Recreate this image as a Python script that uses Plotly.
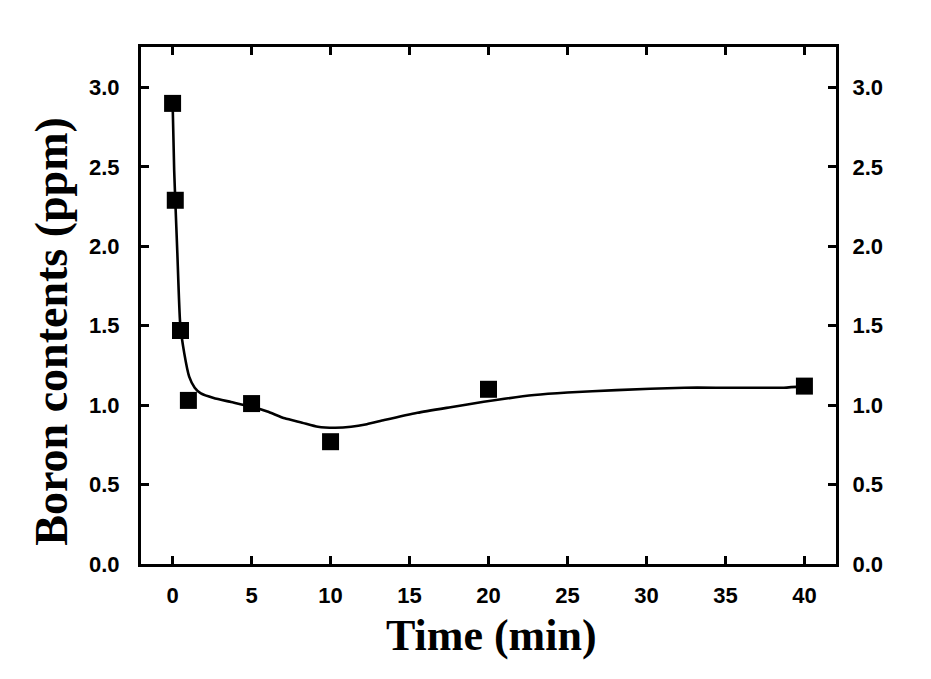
import plotly.graph_objects as go

# Measured data (markers)
time_min = [0, 0.17, 0.5, 1, 5, 10, 20, 40]
boron_ppm = [2.90, 2.29, 1.47, 1.03, 1.01, 0.77, 1.10, 1.12]

# Smooth fit curve
curve_t = [0, 0.1, 0.17, 0.3, 0.48, 0.74, 1.05, 1.4, 1.79, 2.6, 3.7, 5.0, 6.0, 7.1,
           8.2, 9.2, 10.3, 11.3, 12.3, 13.4, 15.5, 17.6, 19.7, 22.9, 25.0, 28.1,
           32.4, 35.0, 38.7, 40]
curve_y = [2.91, 2.48, 2.29, 1.96, 1.515, 1.326, 1.18, 1.11, 1.074, 1.045, 1.02, 0.99,
           0.96, 0.917, 0.89, 0.864, 0.858, 0.864, 0.88, 0.906, 0.952, 0.987, 1.021,
           1.064, 1.08, 1.095, 1.11, 1.11, 1.11, 1.12]

x_ticks = [0, 5, 10, 15, 20, 25, 30, 35, 40]
y_ticks = [0.0, 0.5, 1.0, 1.5, 2.0, 2.5, 3.0]
y_ticklabels = ["0.0", "0.5", "1.0", "1.5", "2.0", "2.5", "3.0"]

x_title = "Time (min)"
y_title = "Boron contents (ppm)"

X_RANGE = [-2, 42]
Y_RANGE = [0, 3.255]

tick_font = dict(family="Liberation Sans, Arial, sans-serif", size=22, color="black",
                 weight="bold")
title_font = dict(family="Liberation Serif, Times New Roman, serif", size=44, color="black")
ytitle_font = dict(family="Liberation Serif, Times New Roman, serif", size=46, color="black")

fig = go.Figure()
fig.add_trace(go.Scatter(x=curve_t, y=curve_y, mode="lines",
                         line=dict(color="black", width=2.6, shape="spline", smoothing=0.5),
                         hoverinfo="skip", showlegend=False))
fig.add_trace(go.Scatter(x=time_min, y=boron_ppm, mode="markers",
                         marker=dict(symbol="square", size=17, color="black"),
                         showlegend=False))
# invisible trace to activate right axis
fig.add_trace(go.Scatter(x=time_min, y=boron_ppm, mode="markers", yaxis="y2",
                         marker=dict(size=1, opacity=0), hoverinfo="skip", showlegend=False))

axis_common = dict(showline=True, linecolor="black", linewidth=3, ticks="inside",
                   ticklen=8, tickwidth=2.5, tickcolor="black", showgrid=False,
                   zeroline=False, tickfont=tick_font)

fig.update_layout(
    width=931, height=679,
    margin=dict(l=141, r=95, t=47, b=115),
    paper_bgcolor="white", plot_bgcolor="white",
    xaxis=dict(range=X_RANGE, tickvals=x_ticks, mirror="ticks", ticklabelstandoff=10,
               **axis_common),
    yaxis=dict(range=Y_RANGE, tickvals=y_ticks, ticktext=y_ticklabels, mirror=False,
               ticklabelstandoff=14, **axis_common),
    yaxis2=dict(range=Y_RANGE, tickvals=y_ticks, ticktext=y_ticklabels, overlaying="y",
                side="right", ticklabelstandoff=9, **axis_common),
    annotations=[
        dict(text="<b>" + x_title + "</b>", xref="paper", yref="paper", x=0.505, y=-0.139,
             xanchor="center", yanchor="middle", showarrow=False, font=title_font),
        dict(text="<b>" + y_title + "</b>", xref="paper", yref="paper", x=-0.129, y=0.45,
             xanchor="center", yanchor="middle", showarrow=False, textangle=-90,
             font=ytitle_font),
    ],
)

fig.write_html("out.html")
